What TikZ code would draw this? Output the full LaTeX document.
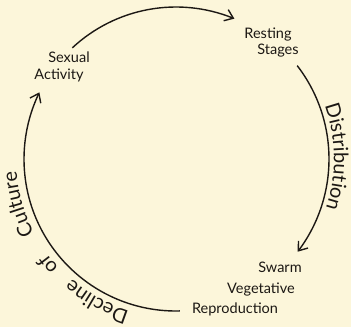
\documentclass[tikz,border=0pt]{standalone}
\usepackage{fontspec}
\setmainfont{Lato}
\usetikzlibrary{arrows.meta,bending,decorations.text}
\definecolor{paper}{RGB}{252,246,218}
\definecolor{ink}{RGB}{28,24,20}
\newcommand{\stagefont}{\fontsize{14.5}{17}\selectfont}
\newcommand{\arcfont}{\fontsize{20}{24}\selectfont}

\begin{document}
\begin{tikzpicture}[x=1pt,y=1pt,>={Straight Barb[length=8pt,width=12pt]},
  stage/.style={anchor=base,inner sep=0pt,font=\stagefont,text=ink},
  cyc/.style={ink,line width=1.4pt,->},
  arctext/.style={decorate,decoration={text along path,text align=center,
    text color=ink,text={|\arcfont|#1}}}]
  \fill[paper] (0,0) rectangle (351,327);
  \useasboundingbox (0,0) rectangle (351,327);
  \coordinate (cen) at (176,168);

  % stages of the cycle
  \node[stage] (sexual) at (69,264) {Sexual};
  \node[stage] (activity) at (59,247) {Activity};
  \node[stage] (resting) at (268,288) {Resting};
  \node[stage] (stages) at (278,272) {Stages};
  \node[stage] (swarm) at (280,55) {Swarm};
  \node[stage] (veget) at (261,34) {Vegetative};
  \node[stage] (repro) at (235,14) {Reproduction};

  % arcs between them
  \coordinate (topS) at ([shift={(133:152)}]cen);
  \coordinate (rightS) at ([shift={(37.6:153)}]cen);
  \coordinate (lowS) at ([shift={(-88.5:152)}]cen);
  \draw[cyc] (topS) arc[start angle=133,end angle=67.4,radius=152];
  \draw[cyc] (rightS) arc[start angle=37.6,end angle=-37.3,radius=153];
  \draw[cyc] (lowS) arc[start angle=-88.5,end angle=-206,radius=152];

  % words along the circle
  \path[arctext=Distribution] ([shift={(41:158)}]cen)
    arc[start angle=41,end angle=-39.6,radius=158];
  \path[arctext=Decline] ([shift={(261:159)}]cen)
    arc[start angle=261,end angle=221,radius=159];
  \path[arctext=of] ([shift={(228:160)}]cen)
    arc[start angle=228,end angle=211,radius=160];
  \path[arctext=Culture] ([shift={(216:160)}]cen)
    arc[start angle=216,end angle=176,radius=160];
\end{tikzpicture}
\end{document}
